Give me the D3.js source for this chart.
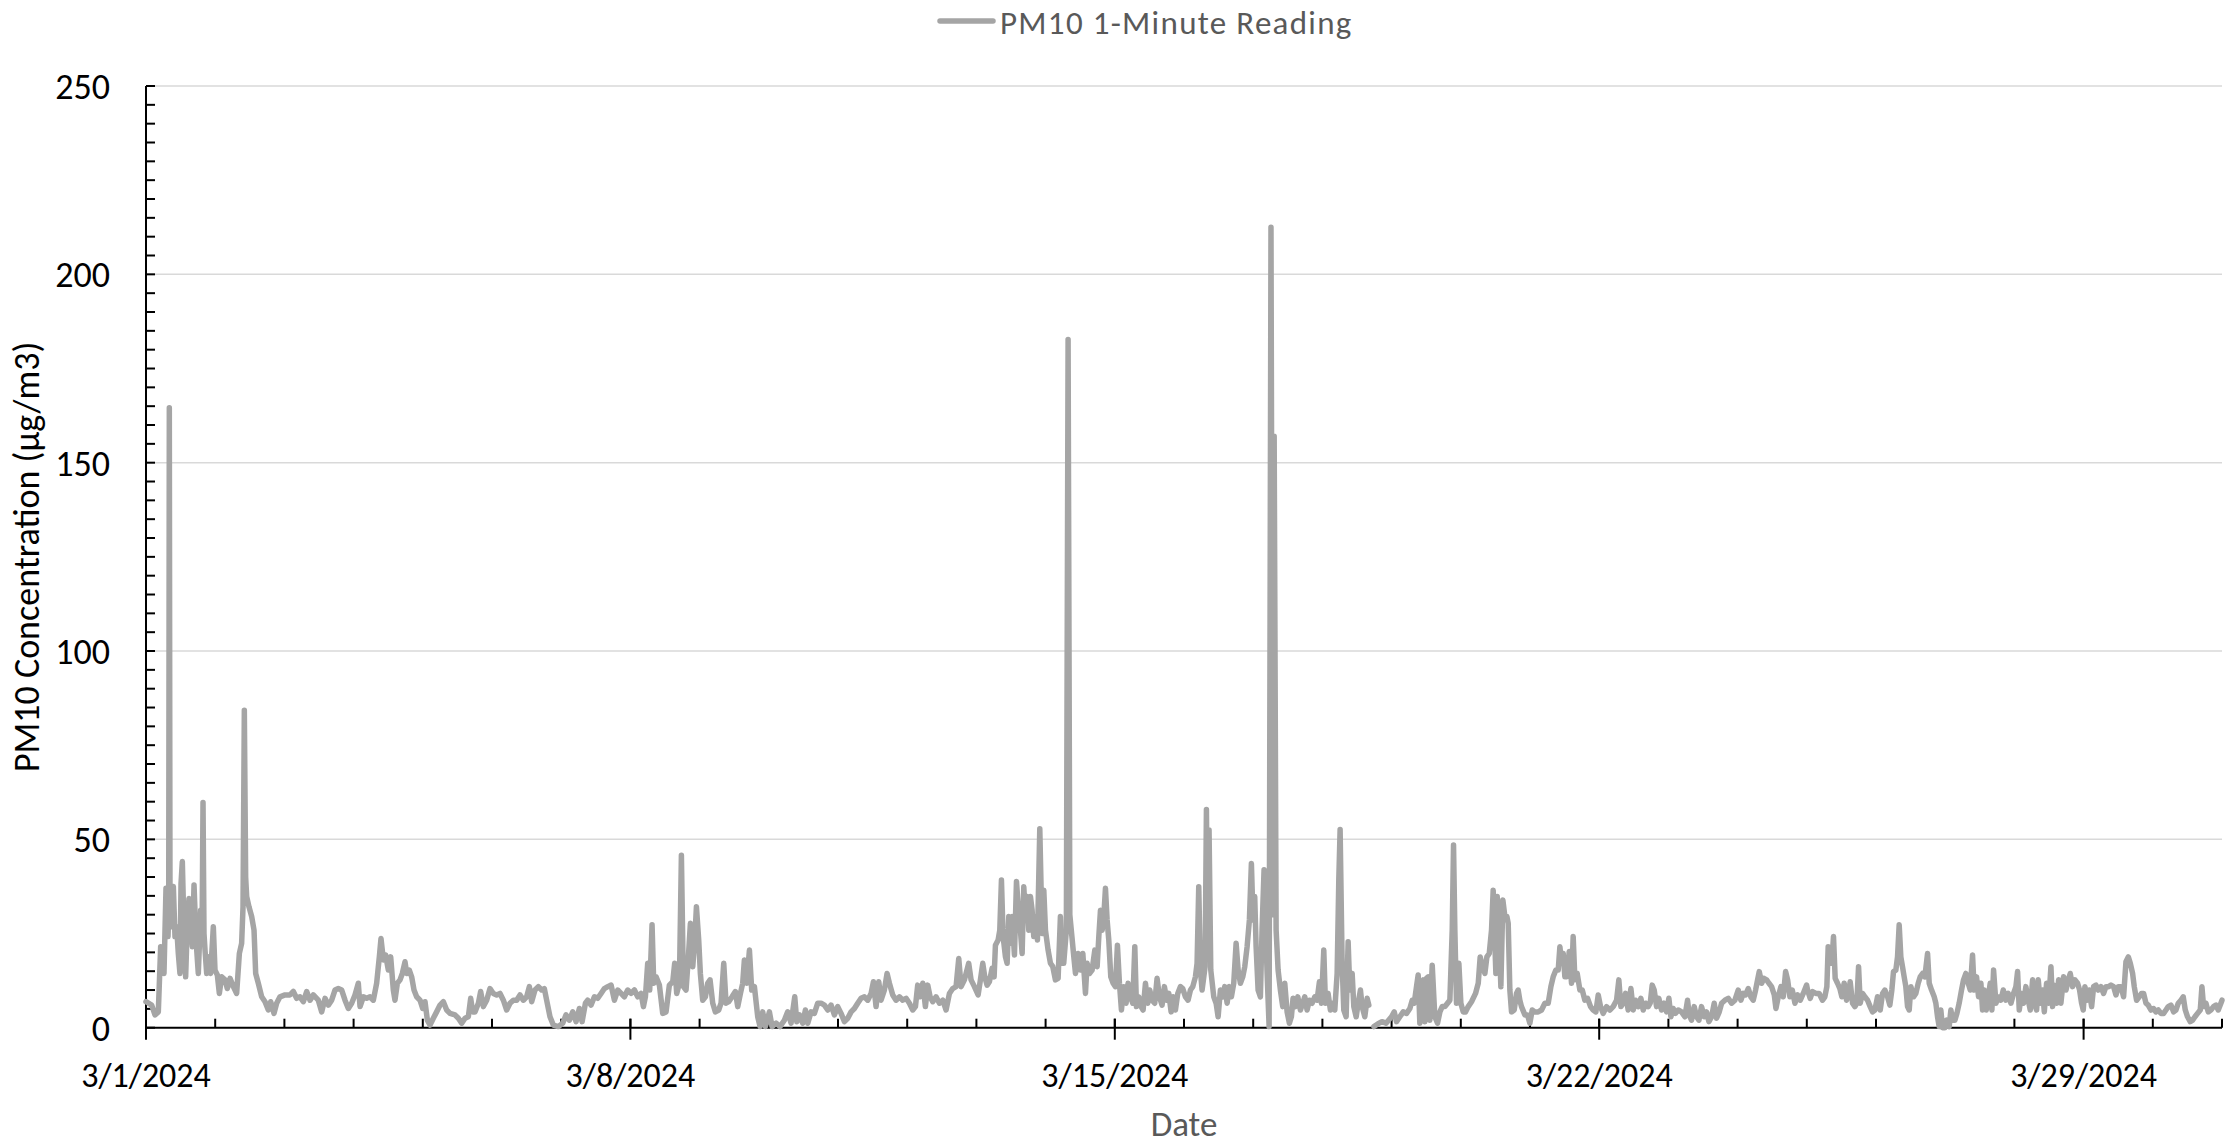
<!DOCTYPE html>
<html><head><meta charset="utf-8">
<script src="https://cdn.jsdelivr.net/npm/d3@7"></script>
<style>
body{margin:0;background:#fff;}
svg{display:block;}
text{font-family: Carlito, Calibri, Lato, "Open Sans", sans-serif;}
</style>
</head><body>
<svg id="chart" width="2227" height="1147"></svg>
<script>
// ---------------- DATA ----------------
const seriesName = "PM10 1-Minute Reading";
const xAxisTitle = "Date";
const yAxisTitle = "PM10 Concentration (µg/m3)";
const yTickValues = [0, 50, 100, 150, 200, 250];
const startDate = "2024-03-01";
const endDate = "2024-03-31";
const xTickLabels = ["3/1/2024", "3/8/2024", "3/15/2024", "3/22/2024", "3/29/2024"];

// days since 3/1/2024 00:00 and PM10 readings (µg/m3); null = gap in record
const daysWeek1 = [0.000,0.082,0.130,0.178,0.212,0.241,0.260,0.289,0.318,0.328,0.337,0.347,0.371,0.395,0.419,0.443,0.467,0.491,0.506,0.525,0.549,0.573,0.597,0.621,0.645,0.670,0.694,0.723,0.756,0.790,0.810,0.824,0.838,0.853,0.877,0.910,0.934,0.973,0.997,1.031,1.060,1.093,1.142,1.175,1.214,1.262,1.310,1.349,1.382,1.402,1.421,1.440,1.455,1.488,1.527,1.561,1.585,1.623,1.672,1.720,1.768,1.802,1.850,1.888,1.936,2.009,2.081,2.129,2.177,2.225,2.274,2.322,2.370,2.418,2.490,2.539,2.587,2.635,2.683,2.731,2.779,2.828,2.876,2.924,2.972,3.020,3.068,3.093,3.141,3.189,3.237,3.285,3.333,3.372,3.396,3.430,3.463,3.502,3.536,3.574,3.598,3.632,3.671,3.704,3.743,3.767,3.805,3.839,3.873,3.911,3.960,3.998,4.032,4.066,4.104,4.152,4.200,4.249,4.297,4.345,4.393,4.465,4.514,4.562,4.610,4.658,4.692,4.721,4.754,4.803,4.836,4.875,4.923,4.971,5.019,5.067,5.116,5.164,5.212,5.260,5.308,5.357,5.405,5.453,5.501,5.540,5.573,5.621,5.670,5.718,5.756,5.790,5.838,5.886,5.959];
const pm10Week1 = [6.9,6.0,3.4,4.2,21.5,21.0,14.4,37.0,24.2,30,164.6,30,26.8,37.5,24.2,26.8,19.7,14.4,38.3,44.1,25.9,13.5,27.7,34.3,28.6,21.5,37.9,23.3,14.4,31.2,25,59.8,25,20.6,14.4,18.8,14.4,26.8,15.3,14.0,9.1,13.5,12.7,10.4,13.1,10.9,9.1,19.7,22.4,32.1,84.3,40,34.8,32.1,29.5,25.9,14.4,11.8,8.2,6.9,4.7,6.9,3.8,6.5,8.2,8.7,8.7,9.6,7.8,8.2,6.9,9.6,7.3,8.7,7.3,4.2,7.8,6.0,7.3,10.0,10.4,10.0,7.3,5.1,6.5,8.7,11.8,5.6,8.2,7.8,8.2,7.3,11.8,18.8,23.7,18.0,19.3,15.3,18.8,10.0,7.3,11.8,12.7,14.4,17.5,14.4,15.3,13.5,10.0,8.2,7.3,5.1,6.9,2.0,0.7,2.5,4.2,6.0,6.9,4.7,3.8,3.4,2.5,1.2,2.5,2.9,7.8,4.2,4.2,6.5,9.6,5.6,7.3,10.4,9.1,8.7,9.1,7.3,4.7,6.5,7.3,7.3,8.7,7.3,8.2,10.9,6.9,10.0,10.9,10.0,10.4,7.3,2.9,0.7,0.3];

const daysWeek2 = [6.022,6.070,6.118,6.167,6.215,6.263,6.302,6.350,6.383,6.432,6.480,6.528,6.576,6.624,6.672,6.721,6.769,6.817,6.865,6.913,6.961,7.010,7.058,7.106,7.154,7.188,7.217,7.250,7.279,7.313,7.337,7.371,7.419,7.467,7.515,7.563,7.612,7.640,7.669,7.708,7.737,7.766,7.804,7.838,7.867,7.901,7.930,7.954,7.987,8.011,8.045,8.084,8.117,8.151,8.190,8.228,8.276,8.310,8.349,8.382,8.421,8.469,8.517,8.551,8.590,8.623,8.647,8.681,8.720,8.753,8.792,8.840,8.874,8.912,8.951,9.009,9.047,9.105,9.163,9.225,9.273,9.322,9.375,9.404,9.442,9.490,9.529,9.563,9.611,9.659,9.707,9.755,9.804,9.852,9.900,9.948,9.996,10.044,10.093,10.141,10.189,10.237,10.285,10.333,10.382,10.430,10.478,10.512,10.550,10.589,10.622,10.670,10.709,10.743,10.791,10.839,10.887,10.936,10.984,11.032,11.080,11.119,11.152,11.186,11.225,11.263,11.297,11.331,11.369,11.417,11.466,11.514,11.562,11.610,11.658,11.706,11.745,11.779,11.827,11.889,11.923,11.971];
const pm10Week2 = [1.2,3.4,2.0,4.2,1.6,5.1,1.6,6.5,7.3,6.0,8.2,7.8,9.1,10.4,10.9,11.3,7.3,10.0,9.1,8.2,10.0,9.1,10.0,8.2,9.1,5.6,8.2,17.1,10.0,27.3,11.8,13.5,11.3,3.8,4.2,11.3,12.2,17.1,9.1,11.8,45.8,10.9,10.0,18.8,27.7,16.2,23.3,32.1,23.3,14.4,7.3,8.2,11.8,12.7,6.5,4.2,4.7,6.5,17.1,6.5,6.9,8.2,9.6,5.6,9.1,11.8,18.0,11.8,20.6,10.0,10.9,2.9,0.3,4.2,0.3,4.2,0.3,1.2,0.3,2.0,4.2,1.2,8.2,1.6,3.4,1.2,4.7,1.2,4.2,3.8,6.5,6.5,6.0,4.7,6.0,3.4,5.6,3.8,1.6,2.5,4.2,5.1,6.5,7.8,8.2,7.3,9.1,12.2,5.6,12.2,7.3,10.0,14.4,11.8,8.7,7.3,8.2,7.3,7.8,6.5,4.7,5.6,11.3,8.2,11.8,5.6,11.3,8.2,6.9,8.2,6.5,7.3,4.7,9.1,10.4,10.9,18.4,10.9,12.7,17.1,12.7,10.9];

const daysWeek3 = [12.025,12.058,12.092,12.121,12.155,12.188,12.227,12.256,12.275,12.314,12.338,12.362,12.386,12.420,12.444,12.468,12.492,12.516,12.550,12.579,12.612,12.636,12.661,12.685,12.709,12.733,12.757,12.781,12.805,12.829,12.853,12.882,12.916,12.949,12.974,12.998,13.036,13.070,13.104,13.142,13.181,13.214,13.238,13.262,13.300,13.325,13.350,13.408,13.432,13.470,13.504,13.538,13.576,13.600,13.634,13.672,13.711,13.745,13.769,13.793,13.817,13.841,13.865,13.889,13.913,13.942,13.976,14.009,14.038,14.067,14.096,14.130,14.163,14.192,14.226,14.260,14.289,14.313,14.346,14.380,14.409,14.443,14.476,14.505,14.539,14.577,14.611,14.645,14.683,14.717,14.751,14.780,14.814,14.843,14.876,14.910,14.949,14.982,15.021,15.059,15.093,15.127,15.165,15.189,15.213,15.237,15.261,15.286,15.305,15.324,15.343,15.362,15.387,15.430,15.464,15.493,15.526,15.560,15.589,15.623,15.656,15.685,15.719,15.753,15.782,15.815,15.849,15.878,15.912,15.945,15.974,15.998,16.022,16.042,16.071,16.104,16.128,16.157,16.177,16.201,16.230,16.257,16.283,16.303,16.331,16.360,16.393,16.427,16.456,16.490,16.523,16.552,16.576,16.610,16.644,16.682,16.716,16.745,16.779,16.812,16.851,16.890,16.923,16.957,16.986,17.020,17.044,17.082,17.116,17.150,17.179,17.213,17.237,17.256,17.285,17.309,17.343,17.372,17.396,17.430,17.454,17.488,17.517,17.550,17.574,17.613,17.647,17.671,17.700,17.744,17.800,17.860,17.920];
const pm10Week3 = [8.7,12.7,17.1,13.5,11.3,12.2,15.8,13.5,21.9,23.3,25.9,39.2,24.2,18.8,17.1,29.5,22.4,29.5,19.3,38.8,30.4,25.9,19.7,37.4,28.6,34.8,25.9,34.8,31.2,24.2,29.5,23.3,52.8,25.0,36.5,25.9,20.6,17.1,16.2,12.7,13.1,29.5,17.1,17.1,25.9,182.7,30,18.8,14.4,19.7,15.3,19.7,9.1,17.1,14.4,15.3,20.6,16.2,24.2,31.2,25.9,29.5,37.0,28.6,23.3,13.5,11.8,10.9,21.9,11.8,4.7,10.9,6.5,11.8,8.2,6.5,21.5,5.6,8.2,5.6,4.7,11.8,6.5,10.0,7.3,6.5,13.1,8.2,6.0,10.9,7.3,9.1,4.2,8.2,4.7,9.1,10.9,10.4,8.2,7.3,10.0,10.9,13.5,17.1,37.4,15.3,10.0,13.5,16.2,57.9,22,52.5,15.3,8.2,6.5,2.9,10.0,8.2,10.9,6.5,10.9,8.2,11.8,22.4,15.3,11.8,13.5,16.2,21.5,28.6,43.6,28.6,34.8,21.5,10.0,8.2,25.9,41.9,28.6,14.4,0.3,212.5,30,157,26,15.3,10.0,5.6,11.8,4.2,1.2,2.9,7.8,5.6,8.2,4.7,6.5,8.2,4.7,7.3,6.5,8.2,7.3,12.2,6.5,20.6,6.5,9.1,4.7,6.5,4.7,14.4,39.2,52.6,17.1,4.7,2.9,22.8,10.0,14.4,5.6,2.9,6.5,10.0,5.6,2.9,7.8,6.0,null,0.3,1.0,1.6,1.2];

const daysWeek4 = [17.999,18.038,18.071,18.119,18.168,18.216,18.264,18.298,18.327,18.360,18.384,18.408,18.433,18.457,18.481,18.505,18.529,18.553,18.587,18.625,18.664,18.698,18.731,18.770,18.808,18.842,18.876,18.895,18.914,18.938,18.972,19.001,19.035,19.068,19.107,19.155,19.213,19.252,19.280,19.314,19.348,19.377,19.411,19.444,19.468,19.492,19.507,19.526,19.555,19.579,19.608,19.637,19.666,19.685,19.709,19.733,19.772,19.805,19.829,19.853,19.877,19.926,19.964,19.998,20.032,20.070,20.118,20.167,20.215,20.263,20.302,20.335,20.374,20.408,20.432,20.456,20.480,20.504,20.533,20.567,20.600,20.624,20.649,20.682,20.721,20.755,20.793,20.832,20.875,20.913,20.952,20.986,21.019,21.058,21.106,21.154,21.202,21.251,21.284,21.313,21.347,21.381,21.419,21.458,21.492,21.525,21.564,21.602,21.636,21.670,21.708,21.737,21.766,21.795,21.829,21.862,21.901,21.939,21.973,22.007,22.036,22.069,22.103,22.142,22.190,22.238,22.277,22.301,22.334,22.373,22.407,22.441,22.479,22.518,22.551,22.585,22.624,22.662,22.696,22.735,22.769,22.817,22.865,22.913,22.961,23.009,23.048,23.082,23.115,23.154,23.192,23.226,23.260,23.289,23.313,23.347,23.380,23.419,23.453,23.491,23.530,23.554,23.588,23.626,23.660,23.694,23.723,23.756,23.790,23.829,23.867,23.906,23.949,23.997];
const pm10Week4 = [2.9,4.2,1.6,2.9,4.2,3.8,5.1,7.3,6.5,10.9,14.0,1.2,11.8,12.7,1.6,13.1,13.5,2.0,16.6,2.9,1.2,4.2,5.6,5.6,6.5,7.3,25.9,48.5,25.9,6.5,17.1,6.5,4.2,4.2,5.6,6.9,9.1,11.8,18.8,16.2,14.4,18.8,19.7,25.9,36.5,22.4,14.4,34.8,23.3,10.9,33.9,29.5,29.5,27.7,10.0,4.2,4.7,9.1,10.0,7.3,5.6,3.4,3.4,1.2,4.7,4.2,4.2,4.7,6.5,6.5,10.9,13.5,15.3,15.3,21.5,17.1,19.7,13.5,13.5,20.2,11.8,24.2,12.7,14.4,10.0,10.0,7.3,7.8,5.6,4.7,4.2,8.7,5.6,3.8,5.6,4.7,5.6,7.3,12.7,5.6,6.5,9.1,4.7,10.4,4.7,7.3,5.6,7.8,4.7,6.5,5.6,6.5,11.3,10.0,5.6,7.8,4.7,6.5,4.2,7.8,2.9,5.1,3.8,4.7,4.2,2.9,7.3,3.4,2.0,5.6,2.9,2.0,5.6,2.9,4.2,1.6,2.9,6.5,2.5,4.2,6.5,7.3,7.8,6.5,7.3,10.0,7.3,9.1,8.7,10.4,8.2,7.3,10.0,12.7,14.9,11.8,13.1,12.7,11.8,10.9,8.7,5.1,8.2,10.9,8.2,14.9,12.7,8.2,10.0,6.5,8.7,7.3,9.1,11.3];

const daysWeek5 = [24.011,24.049,24.083,24.131,24.179,24.227,24.261,24.290,24.309,24.338,24.362,24.386,24.410,24.444,24.478,24.507,24.540,24.574,24.603,24.627,24.661,24.695,24.723,24.748,24.772,24.805,24.839,24.878,24.916,24.950,24.984,25.022,25.061,25.095,25.128,25.167,25.200,25.229,25.253,25.287,25.311,25.335,25.359,25.383,25.407,25.431,25.456,25.480,25.504,25.542,25.576,25.610,25.639,25.673,25.706,25.745,25.769,25.803,25.841,25.865,25.889,25.913,25.937,25.961,25.995,26.024,26.058,26.082,26.106,26.140,26.169,26.202,26.236,26.265,26.299,26.333,26.362,26.395,26.419,26.453,26.482,26.516,26.540,26.564,26.593,26.622,26.651,26.675,26.699,26.733,26.766,26.805,26.839,26.877,26.911,26.950,26.988,27.022,27.046,27.070,27.104,27.133,27.166,27.200,27.229,27.263,27.287,27.321,27.345,27.374,27.408,27.432,27.465,27.494,27.528,27.552,27.576,27.610,27.639,27.672,27.711,27.745,27.778,27.807,27.841,27.875,27.913,27.942,27.971,27.995,28.019,28.048,28.082,28.116,28.145,28.179,28.212,28.251,28.289,28.323,28.362,28.396,28.434,28.468,28.501,28.540,28.578,28.612,28.646,28.675,28.708,28.732,28.766,28.804,28.838,28.867,28.901,28.934,28.973,29.011,29.045,29.079,29.117,29.156,29.190,29.223,29.262,29.300,29.334,29.368,29.406,29.440,29.469,29.502,29.541,29.575,29.609,29.647,29.686,29.710,29.734,29.768,29.801,29.840,29.878,29.912,29.946,29.984,30.000];
const pm10Week5 = [10.0,7.8,9.6,9.1,9.1,7.3,8.2,10.9,21.5,18.8,17.1,24.2,13.1,11.8,10.4,8.2,11.8,7.3,9.1,12.2,6.5,5.6,6.5,16.2,6.5,9.1,8.2,7.3,5.6,4.2,4.7,8.2,4.7,9.1,10.0,8.2,6.0,10.0,14.9,15.3,18.8,27.3,18.8,16.2,13.5,10.9,5.6,4.7,10.9,8.2,9.1,11.8,13.5,14.4,13.5,19.7,11.8,10.0,8.2,6.5,2.9,0.3,4.7,0.0,0.0,2.0,0.3,4.7,2.0,2.0,3.8,6.5,10.0,12.7,14.4,11.8,10.0,19.3,10.0,13.5,8.2,11.8,4.7,10.0,4.7,8.2,11.8,4.7,15.3,6.5,8.2,7.3,10.0,7.3,9.1,6.5,9.1,10.9,14.9,4.7,9.1,6.5,10.9,7.3,4.7,12.7,6.5,4.7,12.7,6.5,10.0,4.2,11.8,6.5,16.2,5.6,11.3,6.5,12.7,6.5,13.5,10.0,12.7,14.4,10.9,12.7,11.8,10.0,6.5,4.7,10.9,7.3,10.0,5.6,10.9,11.3,10.0,10.9,9.1,10.9,10.9,11.3,10.9,8.7,10.9,10.9,8.2,17.5,18.8,17.1,14.4,10.9,7.3,8.2,9.1,9.1,6.5,6.0,4.7,5.1,4.2,4.7,3.8,3.8,4.7,5.6,6.0,4.2,4.7,6.5,7.3,8.2,4.7,2.9,1.6,2.0,2.9,3.8,4.7,10.9,5.6,6.5,4.2,4.7,5.6,6.0,4.7,6.5,7.3];

// ---------------- CHART ----------------
const W = 2227, H = 1147;
const M = {left: 146, right: 2222, top: 86, bottom: 1027.7};
const LINE_COLOR = "#A5A5A5";
const DAY_MS = 86400000;

const t0 = new Date(startDate + "T00:00:00Z");
const t1 = new Date(endDate + "T00:00:00Z");

const allDays = [].concat(daysWeek1, daysWeek2, daysWeek3, daysWeek4, daysWeek5);
const allVals = [].concat(pm10Week1, pm10Week2, pm10Week3, pm10Week4, pm10Week5);
const data = allDays.map((d, i) => ({t: new Date(t0.getTime() + d * DAY_MS), v: allVals[i]}));

const x = d3.scaleUtc().domain([t0, t1]).range([M.left, M.right]);
const y = d3.scaleLinear().domain([0, 250]).range([M.bottom, M.top]);

const svg = d3.select("#chart");
svg.append("rect").attr("width", W).attr("height", H).attr("fill", "#fff");

// gridlines
svg.append("g").selectAll("line").data(yTickValues.filter(v => v > 0)).join("line")
  .attr("x1", M.left).attr("x2", M.right)
  .attr("y1", d => y(d)).attr("y2", d => y(d))
  .attr("stroke", "#D9D9D9").attr("stroke-width", 1.5);

// y axis line + minor ticks
const yAx = svg.append("g");
yAx.append("line").attr("x1", M.left).attr("x2", M.left).attr("y1", y(250)).attr("y2", y(0))
  .attr("stroke", "#000").attr("stroke-width", 2);
yAx.selectAll("line.mt").data(d3.range(0, 251, 5)).join("line").attr("class", "mt")
  .attr("x1", M.left).attr("x2", M.left + 9)
  .attr("y1", d => y(d)).attr("y2", d => y(d))
  .attr("stroke", "#000").attr("stroke-width", 2);
yAx.selectAll("text").data(yTickValues).join("text")
  .attr("x", 110).attr("y", d => y(d) + 1)
  .attr("text-anchor", "end").attr("dominant-baseline", "central")
  .attr("font-size", 36).attr("fill", "#000").text(d => d);

// x axis
const xAx = svg.append("g");
const dayTicks = d3.utcDay.range(t0, new Date(t1.getTime() + 1));
const majorTicks = dayTicks.filter((d, i) => i % 7 === 0);
xAx.append("line").attr("x1", M.left).attr("x2", M.right).attr("y1", y(0)).attr("y2", y(0))
  .attr("stroke", "#000").attr("stroke-width", 2);
xAx.selectAll("line.dt").data(dayTicks).join("line").attr("class", "dt")
  .attr("x1", d => x(d)).attr("x2", d => x(d))
  .attr("y1", y(0) - 9).attr("y2", y(0))
  .attr("stroke", "#000").attr("stroke-width", 2);
xAx.selectAll("line.mj").data(majorTicks).join("line").attr("class", "mj")
  .attr("x1", d => x(d)).attr("x2", d => x(d))
  .attr("y1", y(0) - 9).attr("y2", y(0) + 12)
  .attr("stroke", "#000").attr("stroke-width", 2);
xAx.selectAll("text").data(majorTicks).join("text")
  .attr("x", d => x(d)).attr("y", 1087)
  .attr("text-anchor", "middle")
  .attr("font-size", 34).attr("fill", "#000").text((d, i) => xTickLabels[i]);

// data line
const line = d3.line().defined(d => d.v !== null).x(d => x(d.t)).y(d => y(d.v));
svg.append("path").datum(data).attr("d", line)
  .attr("fill", "none").attr("stroke", LINE_COLOR).attr("stroke-width", 5.5)
  .attr("stroke-linejoin", "round").attr("stroke-linecap", "round");

// axis titles
svg.append("text").attr("x", (M.left + M.right) / 2).attr("y", 1136)
  .attr("text-anchor", "middle").attr("font-size", 35).attr("fill", "#595959").text(xAxisTitle);
svg.append("text").attr("transform", `translate(27,${(M.top + M.bottom) / 2}) rotate(-90)`)
  .attr("text-anchor", "middle").attr("dominant-baseline", "central")
  .attr("font-size", 36).attr("fill", "#000").text(yAxisTitle);

// legend
const lg = svg.append("g");
lg.append("line").attr("x1", 940).attr("x2", 993).attr("y1", 21).attr("y2", 21)
  .attr("stroke", LINE_COLOR).attr("stroke-width", 5.5).attr("stroke-linecap", "round");
lg.append("text").attr("x", 1000).attr("y", 34).attr("font-size", 33)
  .attr("letter-spacing", 1.3).attr("fill", "#595959").text(seriesName);
</script>
</body></html>
